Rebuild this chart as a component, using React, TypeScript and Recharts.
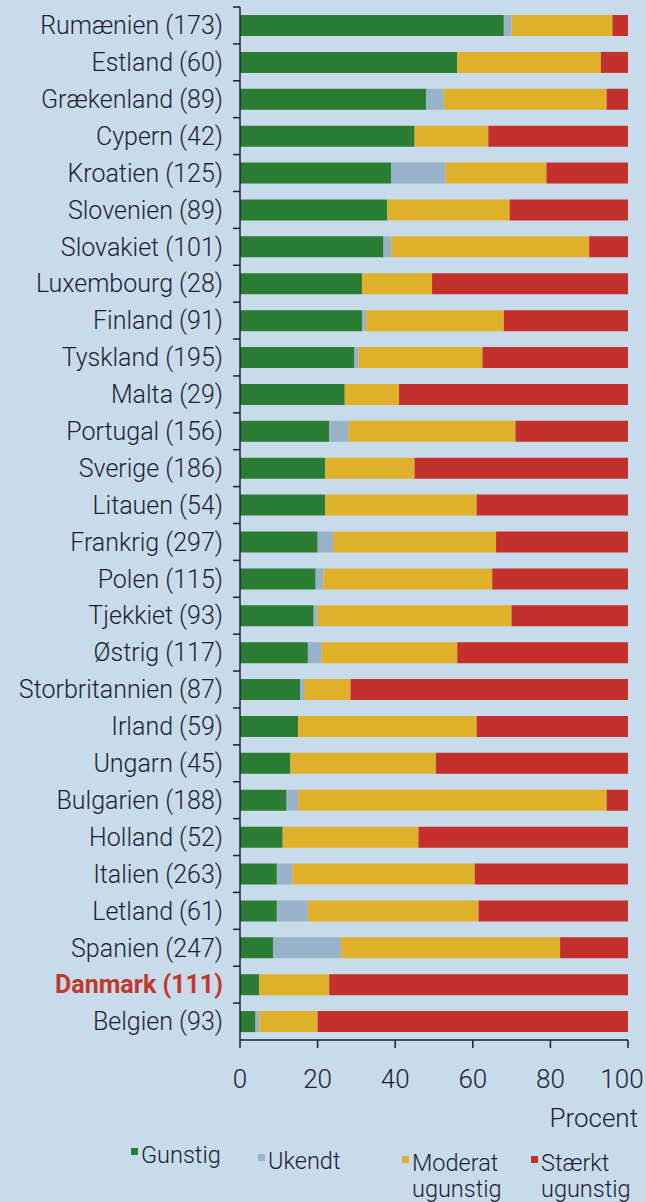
import React from "react";
import { BarChart, Bar, XAxis, YAxis, Legend, Label } from "recharts";

const countries = [
  "Rumænien (173)",
  "Estland (60)",
  "Grækenland (89)",
  "Cypern (42)",
  "Kroatien (125)",
  "Slovenien (89)",
  "Slovakiet (101)",
  "Luxembourg (28)",
  "Finland (91)",
  "Tyskland (195)",
  "Malta (29)",
  "Portugal (156)",
  "Sverige (186)",
  "Litauen (54)",
  "Frankrig (297)",
  "Polen (115)",
  "Tjekkiet (93)",
  "Østrig (117)",
  "Storbritannien (87)",
  "Irland (59)",
  "Ungarn (45)",
  "Bulgarien (188)",
  "Holland (52)",
  "Italien (263)",
  "Letland (61)",
  "Spanien (247)",
  "Danmark (111)",
  "Belgien (93)",
];

const gunstig = [68, 56, 48, 45, 39, 38, 37, 31.5, 31.5, 29.5, 27, 23, 22, 22, 20, 19.5, 19, 17.5, 15.5, 15, 13, 12, 11, 9.5, 9.5, 8.5, 5, 4];
const ukendt = [2, 0, 4.5, 0, 14, 0, 2, 0, 1, 1, 0, 5, 0, 0, 4, 2, 1, 3.5, 1, 0, 0, 3, 0, 4, 8, 17.5, 0, 1];
const moderat = [26, 37, 42, 19, 26, 31.5, 51, 18, 35.5, 32, 14, 43, 23, 39, 42, 43.5, 50, 35, 12, 46, 37.5, 79.5, 35, 47, 44, 56.5, 18, 15];
const staerkt = [4, 7, 5.5, 36, 21, 30.5, 10, 50.5, 32, 37.5, 59, 29, 55, 39, 34, 35, 30, 44, 71.5, 39, 49.5, 5.5, 54, 39.5, 38.5, 17.5, 77, 80];

const xTicks = [0, 20, 40, 60, 80, 100];

const legendItems = [
  { key: "Gunstig", lines: ["Gunstig"], color: "#2a7d32", left: 131, top: 0 },
  { key: "Ukendt", lines: ["Ukendt"], color: "#98b3c9", left: 258, top: 6 },
  { key: "Moderat", lines: ["Moderat", "ugunstig"], color: "#dfb12a", left: 402, top: 8 },
  { key: "Staerkt", lines: ["Stærkt", "ugunstig"], color: "#c4302b", left: 531, top: 8 },
];

const data = countries.map((name, i) => ({
  name,
  gunstig: gunstig[i],
  ukendt: ukendt[i],
  moderat: moderat[i],
  staerkt: staerkt[i],
}));

const W = 646;
const H = 1202;
const TOP = 7;
const PLOT_H = 1033;
const BAND = PLOT_H / countries.length;
const AXIS_X = 240;
const RIGHT_X = 628;
const INK = "#1c2233";
const FONT = "Roboto, 'Noto Sans', sans-serif";

const YTick = (props: any) => {
  const { x, y, payload } = props;
  const dk = payload.value.startsWith("Danmark");
  return (
    <g>
      <line x1={AXIS_X - 7} x2={AXIS_X} y1={y - BAND / 2} y2={y - BAND / 2} stroke={INK} strokeWidth={1.5} />
      <text
        x={x}
        y={y}
        dy="0.35em"
        textAnchor="end"
        fontFamily={FONT}
        fontSize={25}
        fontWeight={dk ? 700 : 300}
        fill={dk ? "#c0392b" : INK}
      >
        {payload.value}
      </text>
    </g>
  );
};

const XTick = (props: any) => {
  const { x, y, payload } = props;
  // last label sits against the page edge in the original
  const dx = payload.value === 100 ? -6 : 0;
  return (
    <text x={x + dx} y={y} dy="0.71em" textAnchor="middle" fontFamily={FONT} fontSize={26} fontWeight={300} fill={INK}>
      {payload.value}
    </text>
  );
};

const LegendBox = () => (
  <div style={{ position: "relative", width: W, height: 60, fontFamily: FONT, fontSize: 23.5, fontWeight: 300, color: INK }}>
    {legendItems.map((it) => (
      <div key={it.key} style={{ position: "absolute", left: it.left, top: it.top, lineHeight: "26px" }}>
        <span
          style={{
            position: "absolute",
            left: 0,
            top: 6,
            width: 7,
            height: 7,
            background: it.color,
          }}
        />
        {it.lines.map((l) => (
          <div key={l} style={{ paddingLeft: 10, whiteSpace: "nowrap" }}>
            {l}
          </div>
        ))}
      </div>
    ))}
  </div>
);

export default function App() {
  return (
    <div style={{ position: "absolute", left: 0, top: 0, width: W, height: H, background: "#c8dbeb" }}>
      <BarChart
        width={W}
        height={H}
        data={data}
        layout="vertical"
        margin={{ top: TOP, right: W - RIGHT_X, left: 0, bottom: 0 }}
        barSize={21}
      >
        <XAxis
          type="number"
          domain={[0, 100]}
          ticks={xTicks}
          height={102}
          tickSize={8}
          tickMargin={22}
          axisLine={{ stroke: INK, strokeWidth: 1.5 }}
          tickLine={{ stroke: INK, strokeWidth: 1.5 }}
          tick={<XTick />}
        >
          <Label
            content={(p: any) => (
              <text
                x={p.viewBox.x + p.viewBox.width + 10}
                y={p.viewBox.y + 78}
                dy="0.35em"
                textAnchor="end"
                fill={INK}
                fontSize={26}
                fontWeight={300}
                fontFamily={FONT}
              >
                Procent
              </text>
            )}
          />
        </XAxis>
        <YAxis
          type="category"
          dataKey="name"
          width={AXIS_X}
          tickSize={7}
          tickMargin={10}
          tickLine={false}
          interval={0}
          axisLine={{ stroke: INK, strokeWidth: 1.5 }}
          tick={<YTick />}
        />
        <Legend verticalAlign="bottom" wrapperStyle={{ left: 0, width: W }} content={() => <LegendBox />} />
        <Bar dataKey="gunstig" stackId="a" fill="#2a7d32" isAnimationActive={false} />
        <Bar dataKey="ukendt" stackId="a" fill="#98b3c9" isAnimationActive={false} />
        <Bar dataKey="moderat" stackId="a" fill="#dfb12a" isAnimationActive={false} />
        <Bar dataKey="staerkt" stackId="a" fill="#c4302b" isAnimationActive={false} />
      </BarChart>
    </div>
  );
}
